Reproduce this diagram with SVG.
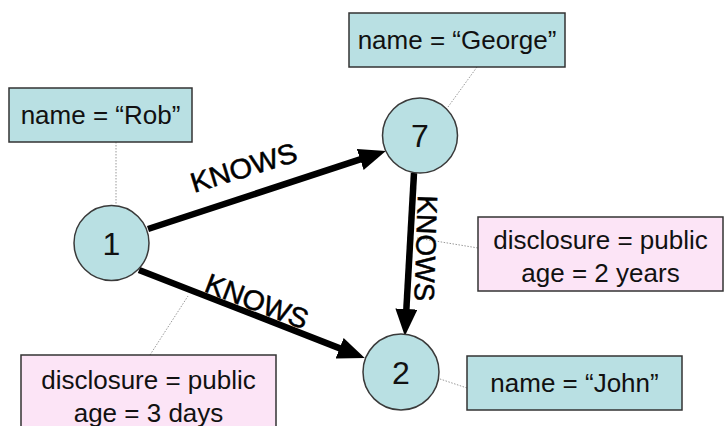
<svg xmlns="http://www.w3.org/2000/svg" width="724" height="426" viewBox="0 0 724 426">
<style>
.node circle{fill:#b9e0e3;stroke:#3a3a3a;stroke-width:1.5}
.num{font-family:"Liberation Sans",Arial,sans-serif;font-size:32px;fill:#111;text-anchor:middle}
.prop{stroke:#333;stroke-width:1.5}
.cyan{fill:#b9e0e3}
.pink{fill:#fce4f6}
.txt{font-family:"Liberation Sans",Arial,sans-serif;font-size:26px;fill:#111;text-anchor:middle}
.dot{stroke:#999;stroke-width:1;stroke-dasharray:1.5 1.5;fill:none}
.edge{stroke:#000;stroke-width:6.5;fill:none;marker-end:url(#ah)}
.lbl{font-family:"Liberation Sans",Arial,sans-serif;font-size:28px;fill:#000;stroke:#000;stroke-width:0.5}
</style>
<defs>
<marker id="ah" markerUnits="userSpaceOnUse" markerWidth="27" markerHeight="22" refX="12" refY="11" orient="auto">
<path d="M0,0 L27,11 L0,22 z" fill="#000"/>
</marker>
</defs>
<rect width="724" height="426" fill="#fff"/>
<g id="connectors">
<line class="dot" x1="116" y1="142" x2="116" y2="205"/>
<line class="dot" x1="477" y1="67" x2="448" y2="107"/>
<line class="dot" x1="417" y1="238" x2="478" y2="248"/>
<line class="dot" x1="437" y1="378" x2="467" y2="388"/>
<line class="dot" x1="150" y1="355" x2="188" y2="296"/>
<line class="edge" x1="148" y1="229" x2="371.6" y2="155.7"/>
<line class="edge" x1="139" y1="270" x2="350.8" y2="352.6"/>
<line class="edge" x1="414" y1="173" x2="405.7" y2="321"/>
<text class="lbl" transform="translate(194,193) rotate(-17)" textLength="110" lengthAdjust="spacingAndGlyphs">KNOWS</text>
<text class="lbl" transform="translate(203,291) rotate(21)" textLength="108" lengthAdjust="spacingAndGlyphs">KNOWS</text>
<text class="lbl" transform="translate(418,195) rotate(92)" textLength="106" lengthAdjust="spacingAndGlyphs">KNOWS</text>
</g>
<g id="node1" class="node"><circle cx="111.5" cy="243" r="37.5"/><text class="num" x="111.5" y="254.5">1</text></g>
<g id="node7" class="node"><circle cx="420" cy="135.5" r="37.5"/><text class="num" x="420" y="147">7</text></g>
<g id="node2" class="node"><circle cx="401" cy="372" r="38"/><text class="num" x="401" y="383.5">2</text></g>
<g id="propRob"><rect class="prop cyan" x="9" y="88" width="183" height="54"/><text class="txt" x="100.5" y="124">name = “Rob”</text></g>
<g id="propGeorge"><rect class="prop cyan" x="349" y="13" width="216" height="54"/><text class="txt" x="457" y="49">name = “George”</text></g>
<g id="propJohn"><rect class="prop cyan" x="467" y="356" width="215" height="54"/><text class="txt" x="574.5" y="392">name = “John”</text></g>
<g id="prop72"><rect class="prop pink" x="478" y="217" width="245" height="74"/><text class="txt" x="600.5" y="249">disclosure = public</text><text class="txt" x="600.5" y="282">age = 2 years</text></g>
<g id="prop12"><rect class="prop pink" x="21" y="355" width="255" height="80"/><text class="txt" x="148.5" y="389">disclosure = public</text><text class="txt" x="148.5" y="422">age = 3 days</text></g>
</svg>
